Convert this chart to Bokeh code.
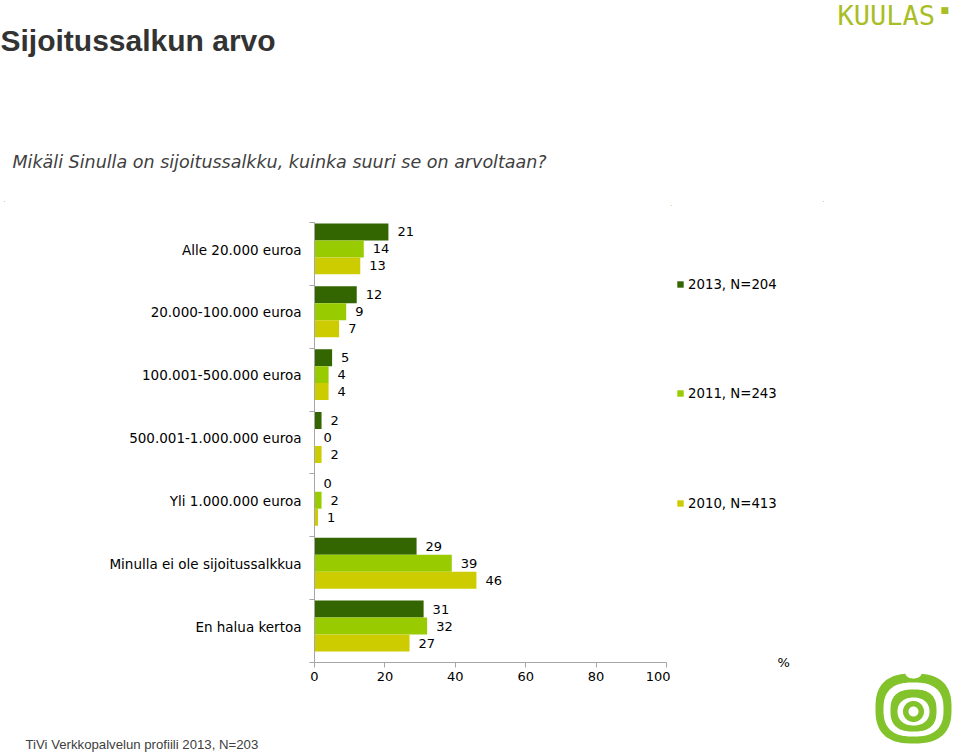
import numpy as np
from bokeh.plotting import figure
from bokeh.models import Range1d, FixedTicker, Legend, LegendItem
from bokeh.layouts import column, row
from bokeh.embed import file_html
from bokeh.resources import INLINE
from bokeh.core.properties import value

# ---------------- data ----------------
categories = ["Alle 20.000 euroa", "20.000-100.000 euroa", "100.001-500.000 euroa",
              "500.001-1.000.000 euroa", "Yli 1.000.000 euroa",
              "Minulla ei ole sijoitussalkkua", "En halua kertoa"]
series_names = ["2013, N=204", "2011, N=243", "2010, N=413"]
v2013 = [21, 12, 5, 2, 0, 29, 31]
v2011 = [14, 9, 4, 0, 2, 39, 32]
v2010 = [13, 7, 4, 2, 1, 46, 27]
series_values = [v2013, v2011, v2010]
colors = ["#336600", "#99cc00", "#cccc00"]
x_ticks = [0, 20, 40, 60, 80, 100]

title_text = "Sijoitussalkun arvo"
subtitle_text = "Mikäli Sinulla on sijoitussalkku, kuinka suuri se on arvoltaan?"
footer_text = "TiVi Verkkopalvelun profiili 2013, N=203"
unit_text = "%"
brand_text = "KUULAS"

# ---------------- layout sizes (page pixels) ----------------
TOTAL_W = 959
HEADER_H = 205
MAIN_W, MAIN_H = 670, 485
FOOTER_H = 64
RIGHT_W = TOTAL_W - MAIN_W
RIGHT_H = MAIN_H + FOOTER_H


def blank(w, h):
    f = figure(width=w, height=h, output_backend="svg", toolbar_location=None,
               title=None, x_range=Range1d(0, w), y_range=Range1d(h, 0),
               x_axis_location=None, y_axis_location=None, min_border=0)
    f.outline_line_color = None
    f.xgrid.visible = False
    f.ygrid.visible = False
    return f


def txt(f, x, y, s, font="DejaVu Sans", size="13px", color="black", style="normal",
        align="left"):
    f.text(x=[x], y=[y], text=[s], text_font=value(font), text_font_size=size,
           text_color=color, text_font_style=style, text_align=align,
           text_baseline="middle")


# ---------------- header ----------------
header = blank(TOTAL_W, HEADER_H)
txt(header, 0, 40, title_text, font="Liberation Sans", size="30px", color="#333333",
    style="bold")
txt(header, 12, 161, subtitle_text, font="DejaVu Sans", size="17.5px",
    color="#404040", style="italic")
txt(header, 837, 15, brand_text, font="DejaVu Sans Mono", size="27px", color="#a9bd25")
txt(header, 940, 9, "■", font="DejaVu Sans", size="9px", color="#a9bd25")
txt(header, 3, 199, ".", size="6px", color="#777777")
txt(header, 822, 199, ".", size="6px", color="#777777")

# ---------------- main chart ----------------
N = len(categories)
FL, FT, FR, FB = 314, 17, 666, 457   # frame edges inside the main figure
p = figure(width=MAIN_W, height=MAIN_H, output_backend="svg", toolbar_location=None,
           title=None, x_range=Range1d(0, 100), y_range=Range1d(N, 0),
           min_border_left=FL, min_border_top=FT,
           min_border_right=MAIN_W - FR, min_border_bottom=MAIN_H - FB)
p.outline_line_color = None
p.xgrid.visible = False
p.ygrid.visible = False

BAR_H = 0.27
for k, (vals, col) in enumerate(zip(series_values, colors)):
    ys = [i + 0.15 + BAR_H * k for i in range(N)]
    p.hbar(y=ys, left=0, right=vals, height=BAR_H, fill_color=col, line_color=None)
    p.text(x=vals, y=ys, text=[str(v) for v in vals], x_offset=9,
           text_baseline="middle", text_align="left",
           text_font=value("DejaVu Sans"), text_font_size="13px", text_color="black")

p.xaxis.ticker = FixedTicker(ticks=x_ticks)
p.xaxis.axis_line_color = "#a6a6a6"
p.xaxis.major_tick_line_color = "#a6a6a6"
p.xaxis.major_tick_out = 5
p.xaxis.major_tick_in = 0
p.xaxis.minor_tick_line_color = None
p.xaxis.major_label_text_font = "DejaVu Sans"
p.xaxis.major_label_text_font_size = "13px"
p.xaxis.major_label_text_color = "black"
p.xaxis.major_label_standoff = 4

label_ticks = [round(i + 0.43, 2) for i in range(N)]
p.yaxis.ticker = FixedTicker(ticks=label_ticks, minor_ticks=list(range(N + 1)))
p.yaxis.major_label_overrides = {t: c for t, c in zip(label_ticks, categories)}
p.yaxis.axis_line_color = "#a6a6a6"
p.yaxis.major_tick_line_color = None
p.yaxis.major_tick_out = 0
p.yaxis.major_tick_in = 0
p.yaxis.minor_tick_line_color = "#a6a6a6"
p.yaxis.minor_tick_out = 5
p.yaxis.minor_tick_in = 0
p.yaxis.major_label_text_font = "DejaVu Sans"
p.yaxis.major_label_text_font_size = "13.5px"
p.yaxis.major_label_text_color = "black"
p.yaxis.major_label_standoff = 8

# ---------------- footer ----------------
footer = blank(MAIN_W, FOOTER_H)
txt(footer, 25, 54, footer_text, font="Liberation Sans", size="13.2px",
    color="#404040")

# ---------------- right side: legend, unit, logo ----------------
right = blank(RIGHT_W, RIGHT_H)
legend_centers = [79, 188, 298]      # vertical centres of the legend rows
for name, col, cy in zip(series_names, colors, legend_centers):
    # swatch renderer kept outside the visible range; only its legend glyph shows
    r = right.hbar(y=[-50], left=[0], right=[1], height=1, fill_color=col,
                   line_color=None)
    lg = Legend(items=[LegendItem(label=name, renderers=[r])],
                location=(6, RIGHT_H - cy - 8), padding=0, margin=0,
                glyph_width=8, glyph_height=8, label_standoff=4, label_height=16,
                label_text_font="DejaVu Sans", label_text_font_size="13.3px",
                label_text_color="black",
                border_line_color=None, background_fill_alpha=0)
    right.add_layout(lg)

txt(right, 107, 457, unit_text)


def blob(f, cx, cy, rx, ry, color, n=2.6):
    t = np.linspace(0, 2 * np.pi, 120)
    c, s = np.cos(t), np.sin(t)
    rr = (np.abs(c) ** n + np.abs(s) ** n) ** (-1.0 / n)
    f.patch(x=cx + rx * rr * c, y=cy + ry * rr * s, fill_color=color, line_color=None)


G = "#82c22b"
ax, ay = 243, 503
blob(right, ax, ay, 38, 35, G)
blob(right, ax, ay - 35, 8, 5, "white", n=2)
blob(right, ax, ay + 1, 30, 27, "white")
blob(right, ax, ay + 2, 23, 21, G)
blob(right, ax, ay + 3, 16, 14, "white", n=2.2)
blob(right, ax, ay + 3, 10.5, 10.5, G, n=2)
blob(right, ax, ay + 3, 5, 5, "white", n=2)

layout = column(header, row(column(p, row(footer)), right))
open("out.html", "w").write(file_html(layout, INLINE))
